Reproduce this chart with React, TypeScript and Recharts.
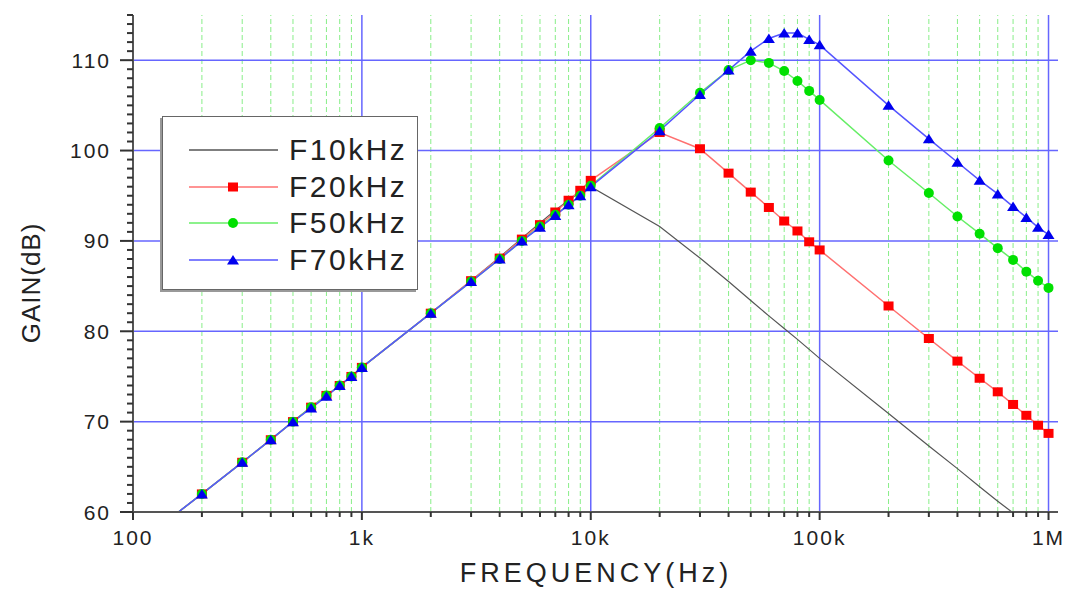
import React from "react";
import {
  LineChart,
  Line,
  XAxis,
  YAxis,
  ReferenceLine,
  Label,
} from "recharts";

const freqs = [
  158, 200, 300, 400, 500, 600, 700, 800, 900, 1000, 2000, 3000, 4000, 5000,
  6000, 7000, 8000, 9000, 10000, 20000, 30000, 40000, 50000, 60000, 70000,
  80000, 90000, 100000, 200000, 300000, 400000, 500000, 600000, 700000, 800000,
  900000, 1000000,
];

const gain10k = [
  60, 62, 65.5, 68, 70, 71.6, 72.9, 74, 75, 76, 82, 85.6, 88.2, 90.3, 92, 93.4,
  94.5, 95.4, 96, 91.6, 88.1, 85.5, 83.4, 81.7, 80.3, 79.1, 78, 77, 70.9, 67.3,
  64.8, 62.8, 61.2, 59.9, 58.7, 57.7, 56.8,
];
const gain20k = [
  60, 62, 65.5, 68, 70, 71.6, 72.9, 74, 75, 76, 82, 85.6, 88.1, 90.2, 91.8,
  93.2, 94.5, 95.6, 96.7, 102, 100.2, 97.5, 95.4, 93.7, 92.2, 91.1, 89.9, 89.0,
  82.8, 79.2, 76.7, 74.8, 73.3, 71.9, 70.7, 69.6, 68.7,
];
const gain50k = [
  60, 62, 65.5, 68, 70, 71.6, 72.9, 74, 75, 76, 82, 85.5, 88, 90, 91.6, 92.9,
  94, 95, 96.1, 102.5, 106.4, 108.9, 110, 109.7, 108.8, 107.7, 106.6, 105.6,
  98.9, 95.3, 92.7, 90.8, 89.2, 87.9, 86.6, 85.6, 84.8,
];
const gain70k = [
  60, 62, 65.5, 68, 70, 71.5, 72.8, 74, 75, 76, 82, 85.5, 88, 90, 91.5, 92.8,
  94, 95, 96, 102.2, 106.2, 108.9, 111, 112.4, 113, 113, 112.3, 111.7, 105,
  101.3, 98.7, 96.7, 95.2, 93.8, 92.6, 91.5, 90.7,
];

const decadeTicks = [100, 1000, 10000, 100000, 1000000];
const decadeLabels = ["100", "1k", "10k", "100k", "1M"];
const minorFreqs = [100, 1000, 10000, 100000].flatMap((d) =>
  [2, 3, 4, 5, 6, 7, 8, 9].map((m) => d * m)
);
const gainGrid = [70, 80, 90, 100, 110];
const gainTicks = Array.from({ length: 56 }, (_, i) => 60 + i);

const legendItems = [
  { name: "F10kHz", line: "#555555", marker: "none", fill: "" },
  { name: "F20kHz", line: "#ff7070", marker: "square", fill: "#ff0000" },
  { name: "F50kHz", line: "#66ee66", marker: "circle", fill: "#00e000" },
  { name: "F70kHz", line: "#5555ff", marker: "triangle", fill: "#0000ee" },
];

const data = freqs.map((f, i) => ({
  f,
  s10: gain10k[i],
  s20: gain20k[i],
  s50: gain50k[i],
  s70: gain70k[i],
}));

const FONT = "'Liberation Sans', Arial, sans-serif";

function Marker({ kind, cx, cy, fill }: any) {
  if (kind === "square")
    return <rect x={cx - 5} y={cy - 4.5} width={10} height={9} fill={fill} />;
  if (kind === "circle") return <circle cx={cx} cy={cy} r={5} fill={fill} />;
  if (kind === "triangle")
    return (
      <polygon
        points={`${cx - 6},${cy + 4.5} ${cx + 6},${cy + 4.5} ${cx},${cy - 5}`}
        fill={fill}
      />
    );
  return null;
}

const makeDot = (kind: string, fill: string) => (props: any) => {
  const { cx, cy, index } = props;
  if (index === 0 || cx == null || cy == null)
    return <g key={`d-${kind}-${index}`} />;
  return (
    <g key={`d-${kind}-${index}`}>
      <Marker kind={kind} cx={cx} cy={cy} fill={fill} />
    </g>
  );
};

const XTick = (props: any) => {
  const { x, y, payload } = props;
  const idx = decadeTicks.indexOf(payload.value);
  const major = idx >= 0;
  return (
    <g>
      <line x1={x} x2={x} y1={y} y2={y + (major ? 8 : 5)} stroke="#333" strokeWidth={2} />
      {major && (
        <text
          x={x}
          y={y + 33}
          textAnchor="middle"
          fontSize={21}
          letterSpacing={2}
          fontFamily={FONT}
          fill="#222"
        >
          {decadeLabels[idx]}
        </text>
      )}
    </g>
  );
};

const YTick = (props: any) => {
  const { x, y, payload } = props;
  const major = payload.value % 10 === 0;
  return (
    <g>
      <line x1={x - (major ? 13 : 6)} x2={x} y1={y} y2={y} stroke="#333" strokeWidth={2} />
      {major && (
        <text
          x={x - 22}
          y={y + 7.5}
          textAnchor="end"
          fontSize={21}
          letterSpacing={2}
          fontFamily={FONT}
          fill="#222"
        >
          {payload.value}
        </text>
      )}
    </g>
  );
};

export default function App() {
  return (
    <div style={{ position: "absolute", left: 0, top: 0, width: 1067, height: 590, background: "#fff" }}>
      <LineChart
        width={1067}
        height={590}
        data={data}
        margin={{ top: 15, right: 9, bottom: 0, left: 0 }}
      >
        <XAxis
          dataKey="f"
          type="number"
          scale="log"
          domain={[100, 1100000]}
          ticks={[...decadeTicks, ...minorFreqs].sort((a, b) => a - b)}
          interval={0}
          height={78}
          tickSize={0}
          tickMargin={0}
          tickLine={false}
          tick={XTick}
          axisLine={{ stroke: "#555", strokeWidth: 2 }}
          allowDataOverflow
        >
          <Label
            content={() => (
              <text
                x={596}
                y={582}
                textAnchor="middle"
                fontSize={27}
                letterSpacing={4}
                fontFamily={FONT}
                fill="#222"
              >
                FREQUENCY(Hz)
              </text>
            )}
          />
        </XAxis>
        <YAxis
          type="number"
          domain={[60, 115]}
          ticks={gainTicks}
          interval={0}
          width={133}
          tickSize={0}
          tickMargin={0}
          tickLine={false}
          tick={YTick}
          axisLine={{ stroke: "#555", strokeWidth: 2 }}
          allowDataOverflow
        >
          <Label
            content={() => (
              <text
                x={0}
                y={0}
                transform="translate(40,283) rotate(-90)"
                textAnchor="middle"
                fontSize={26}
                letterSpacing={1}
                fontFamily={FONT}
                fill="#222"
              >
                GAIN(dB)
              </text>
            )}
          />
        </YAxis>
        {minorFreqs.map((f) => (
          <ReferenceLine
            key={`m${f}`}
            x={f}
            stroke="#88ee88"
            strokeDasharray="5 3"
            strokeWidth={1}
          />
        ))}
        {decadeTicks.slice(1).map((f) => (
          <ReferenceLine key={`M${f}`} x={f} stroke="#6666ff" strokeWidth={1.5} />
        ))}
        {gainGrid.map((g) => (
          <ReferenceLine key={`g${g}`} y={g} stroke="#6666ff" strokeWidth={1.5} />
        ))}
        <Line
          dataKey="s10"
          stroke="#555555"
          strokeWidth={1.2}
          dot={false}
          isAnimationActive={false}
        />
        <Line
          dataKey="s20"
          stroke="#ff7070"
          strokeWidth={1.5}
          dot={makeDot("square", "#ff0000")}
          isAnimationActive={false}
        />
        <Line
          dataKey="s50"
          stroke="#66ee66"
          strokeWidth={1.5}
          dot={makeDot("circle", "#00e000")}
          isAnimationActive={false}
        />
        <Line
          dataKey="s70"
          stroke="#5555ff"
          strokeWidth={1.5}
          dot={makeDot("triangle", "#0000ee")}
          isAnimationActive={false}
        />
      </LineChart>
      <div
        style={{
          position: "absolute",
          left: 162,
          top: 116,
          width: 256,
          height: 174,
          background: "#fff",
          border: "1px solid #666",
          boxShadow: "-2px 2px 0 #999",
          boxSizing: "border-box",
        }}
      >
        {legendItems.map((it, i) => (
          <div
            key={it.name}
            style={{
              position: "absolute",
              left: 25,
              top: 15 + i * 36.5,
              height: 36,
              display: "flex",
              alignItems: "center",
            }}
          >
            <svg width={92} height={20}>
              <line x1={1} x2={90} y1={10} y2={10} stroke={it.line} strokeWidth={1.5} />
              <Marker kind={it.marker} cx={45} cy={10} fill={it.fill} />
            </svg>
            <span
              style={{
                marginLeft: 9,
                fontFamily: FONT,
                fontSize: 30,
                letterSpacing: 2.5,
                color: "#222",
                lineHeight: "36px",
              }}
            >
              {it.name}
            </span>
          </div>
        ))}
      </div>
    </div>
  );
}
